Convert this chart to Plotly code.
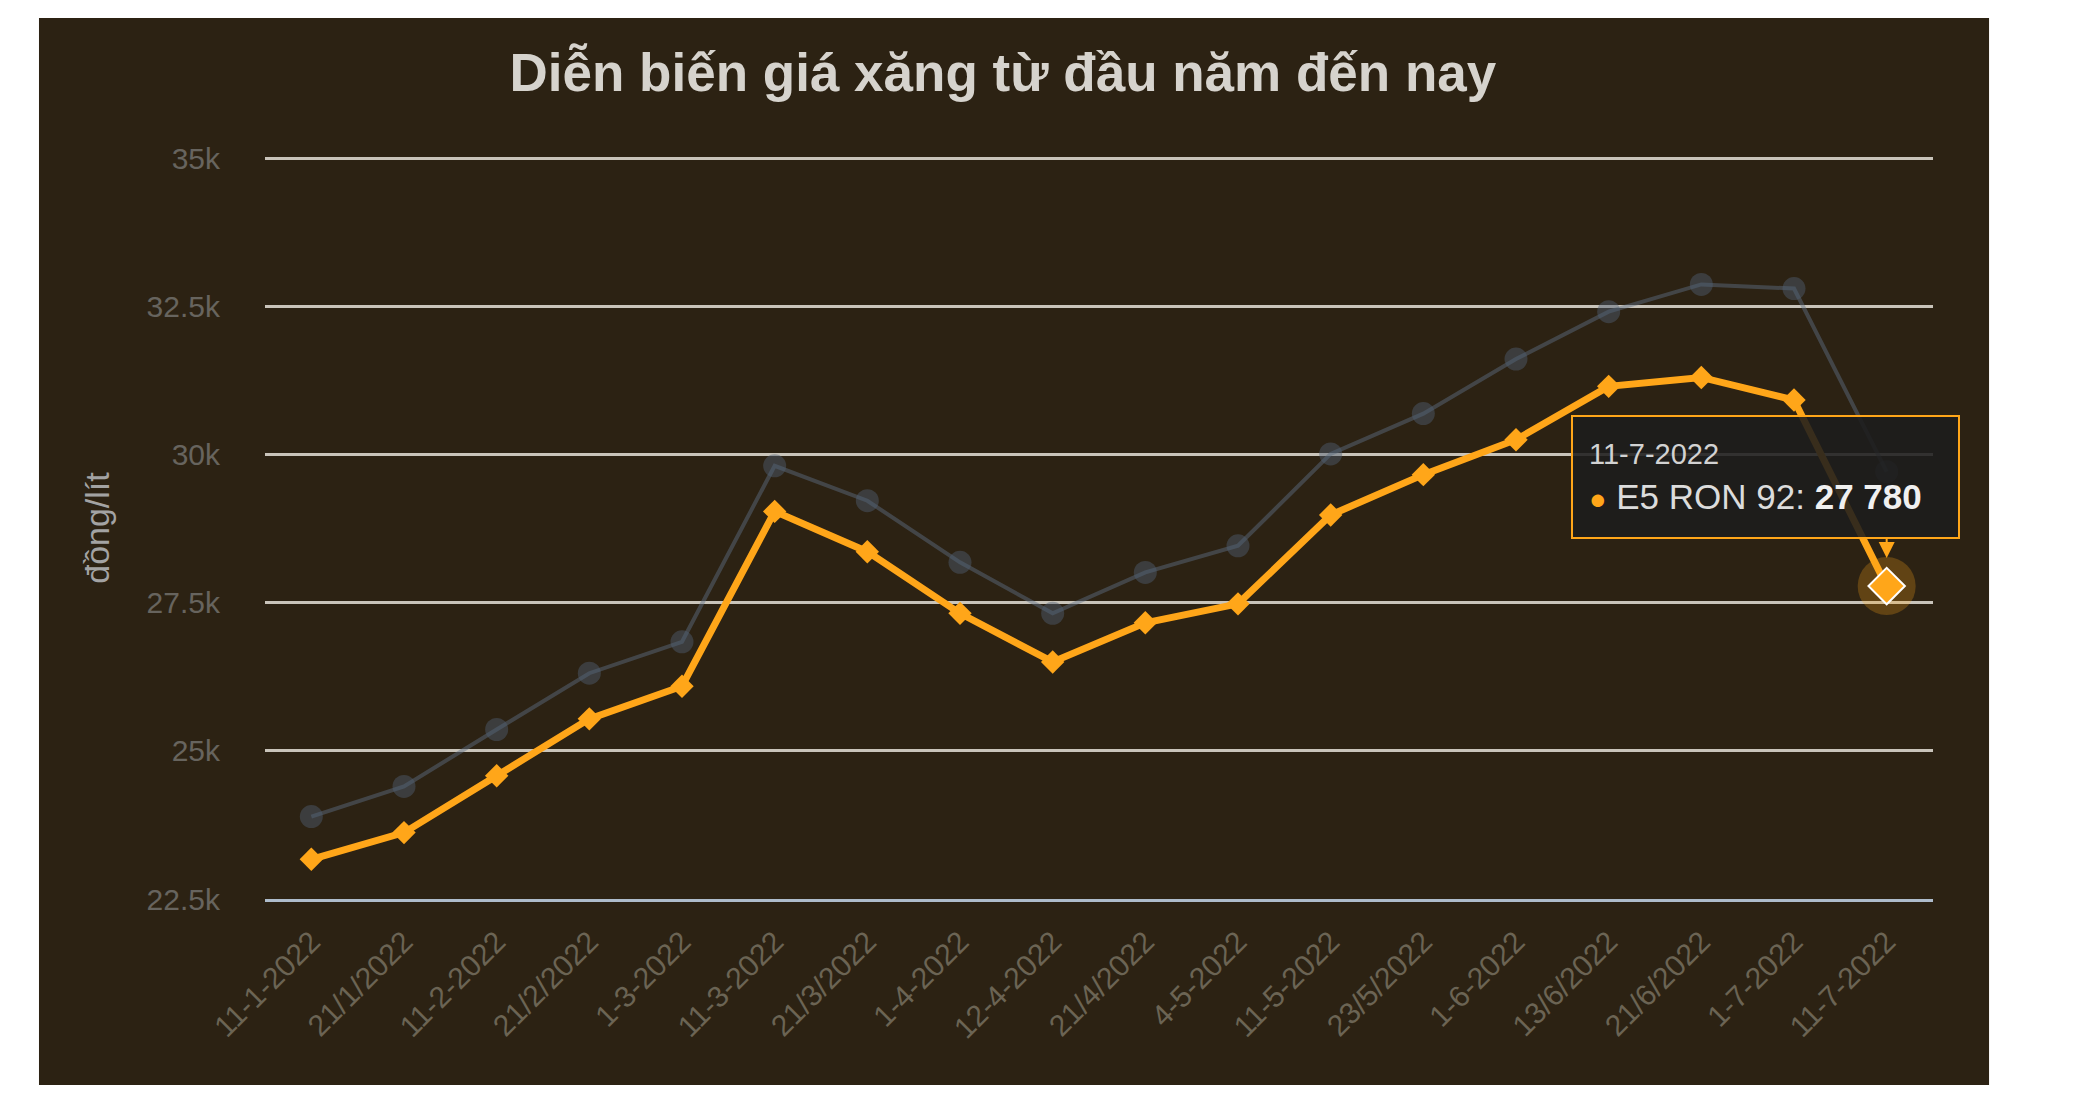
import plotly.graph_objects as go

# nhãn ngày trên trục x
dates = ["11-1-2022", "21/1/2022", "11-2-2022", "21/2/2022", "1-3-2022", "11-3-2022",
         "21/3/2022", "1-4-2022", "12-4-2022", "21/4/2022", "4-5-2022", "11-5-2022",
         "23/5/2022", "1-6-2022", "13/6/2022", "21/6/2022", "1-7-2022", "11-7-2022"]

# giá (đồng/lít)
e5_ron92 = [23170, 23620, 24580, 25540, 26090, 29040, 28360, 27320, 26500, 27160,
            27480, 28980, 29660, 30250, 31150, 31300, 30920, 27780]
ron95 = [23890, 24400, 25360, 26310, 26840, 29810, 29220, 28180, 27320, 28010,
         28460, 30010, 30690, 31610, 32410, 32870, 32800, 29710]

y_ticks = [22500, 25000, 27500, 30000, 32500, 35000]
y_labels = ["22.5k", "25k", "27.5k", "30k", "32.5k", "35k"]

FONT = "Liberation Sans, Arial, sans-serif"
ORANGE = "#ffa619"
BG = "#2c2213"

fig = go.Figure()

# RON 95-III (mờ, nằm dưới)
fig.add_trace(go.Scatter(
    x=dates, y=ron95, name="RON 95-III", mode="lines+markers",
    line=dict(color="rgba(95,112,135,0.45)", width=4),
    marker=dict(symbol="circle", size=23, color="rgba(80,95,115,0.45)", line=dict(width=0)),
    hoverinfo="skip",
))

# E5 RON 92
fig.add_trace(go.Scatter(
    x=dates, y=e5_ron92, name="E5 RON 92", mode="lines+markers",
    line=dict(color=ORANGE, width=7),
    marker=dict(symbol="diamond", size=18, color=ORANGE, line=dict(width=0)),
    hoverinfo="skip",
))

# điểm đang được hover (halo + diamond viền trắng)
fig.add_trace(go.Scatter(
    x=dates[-1:], y=e5_ron92[-1:], mode="markers",
    marker=dict(symbol="circle", size=58, color="rgba(255,166,25,0.25)", line=dict(width=0)),
    hoverinfo="skip",
))
fig.add_trace(go.Scatter(
    x=dates[-1:], y=e5_ron92[-1:], mode="markers",
    marker=dict(symbol="diamond", size=28, color=ORANGE, line=dict(color="white", width=2)),
    hoverinfo="skip",
))

# mũi nhọn tooltip
fig.add_annotation(
    x=dates[-1], y=e5_ron92[-1], text="", showarrow=True,
    ax=0, ay=-50, arrowhead=2, arrowsize=1.6, arrowwidth=2,
    arrowcolor=ORANGE, standoff=28,
)

# tooltip
value_txt = f"{e5_ron92[-1]:,}".replace(",", " ")
tooltip = (
    f"<span style='font-size:29px;color:#d2d2d2'>{dates[-1]}</span><br>"
    f"<span style='color:{ORANGE};font-size:29px'>●</span> "
    f"<span style='color:#dcdcdc'>E5 RON 92: </span><b style='color:#f0f0f0'>{value_txt}</b>"
)
fig.add_annotation(
    x=dates[-1], y=e5_ron92[-1], text=tooltip, showarrow=False,
    xshift=-121, yshift=109, align="left", valign="middle",
    width=353, height=88, borderpad=16,
    bgcolor="rgba(28,28,28,0.88)", bordercolor=ORANGE, borderwidth=2,
    font=dict(family=FONT, size=35, color="#dcdcdc"),
)

# trang có lề body 8px, nên hình nhỏ hơn cửa sổ 16px
fig.update_layout(
    width=2077, height=1082,
    margin=dict(l=257, r=152, t=149, b=191),
    paper_bgcolor="white",
    plot_bgcolor="rgba(0,0,0,0)",
    showlegend=False,
    font=dict(family=FONT),
    title=dict(
        text="<b>Diễn biến giá xăng từ đầu năm đến nay</b>",
        x=0.479, xref="container", xanchor="center",
        y=0.94, yref="container", yanchor="middle",
        font=dict(family=FONT, size=53, color="#d6d3cd"),
    ),
    shapes=[dict(
        type="rect", xref="paper", yref="paper",
        x0=-0.1355, x1=1.0336, y0=-0.2507, y1=1.1873,
        fillcolor=BG, line=dict(width=0), layer="below",
    )],
    xaxis=dict(
        type="category", range=[-0.5, len(dates) - 0.5],
        showgrid=False, zeroline=False,
        showline=True, linecolor="#aebccb", linewidth=3,
        ticks="outside", ticklen=10, tickcolor="rgba(0,0,0,0)",
        tickangle=-45,
        tickfont=dict(family=FONT, size=30, color="#6b6454"),
    ),
    yaxis=dict(
        range=[22500, 35020],
        tickvals=y_ticks, ticktext=y_labels,
        showgrid=True, gridcolor="#c9c4ba", gridwidth=3,
        zeroline=False, showline=False,
        ticks="outside", ticklen=38, tickcolor="rgba(0,0,0,0)",
        tickfont=dict(family=FONT, size=30, color="#67645e"),
        title=dict(text="đồng/lít", standoff=26,
                   font=dict(family=FONT, size=34, color="#a3a3a3")),
    ),
)

fig.write_html("out.html")
